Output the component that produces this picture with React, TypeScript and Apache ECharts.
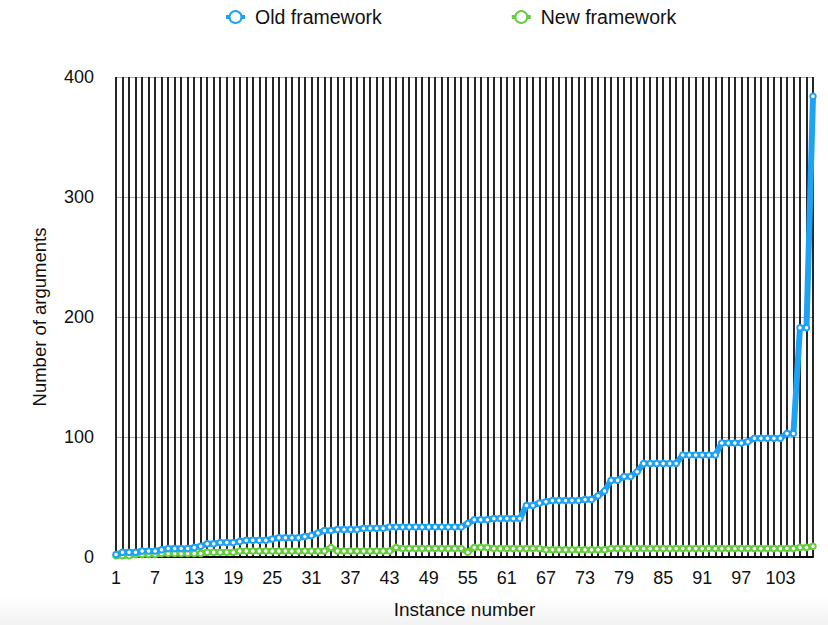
import React, { useEffect, useRef } from "react";
import * as echarts from "echarts";

const categories: string[] = Array.from({ length: 108 }, (_, i) => String(i + 1));

const oldFramework: number[] = [
  2, 4, 4, 4, 5, 5, 5, 6, 7, 7,
  7, 7, 8, 9, 11, 11, 12, 12, 12, 13,
  14, 14, 14, 14, 15, 16, 16, 16, 16, 17,
  18, 20, 22, 22, 23, 23, 23, 23, 24, 24,
  24, 24, 25, 25, 25, 25, 25, 25, 25, 25,
  25, 25, 25, 25, 28, 31, 31, 31, 32, 32,
  32, 32, 32, 43, 43, 45, 46, 47, 47, 47,
  47, 47, 48, 48, 51, 55, 64, 64, 67, 67,
  71, 78, 78, 78, 78, 78, 78, 85, 85, 85,
  85, 85, 85, 95, 95, 95, 95, 96, 99, 99,
  99, 99, 99, 103, 103, 191, 191, 384,
];

const newFramework: number[] = [
  1, 1, 1, 2, 2, 2, 2, 3, 3, 3,
  3, 3, 3, 3, 4, 4, 4, 4, 4, 5,
  5, 5, 5, 5, 5, 5, 5, 5, 5, 5,
  5, 5, 5, 8, 5, 5, 5, 5, 5, 5,
  5, 5, 5, 8, 7, 7, 7, 7, 7, 7,
  7, 7, 7, 7, 4, 8, 8, 8, 7, 7,
  7, 7, 7, 7, 7, 7, 6, 6, 6, 6,
  6, 6, 6, 6, 6, 6, 7, 7, 7, 7,
  7, 7, 7, 7, 7, 7, 7, 7, 7, 7,
  7, 7, 7, 7, 7, 7, 7, 7, 7, 7,
  7, 7, 7, 7, 7, 8, 8, 9,
];

const yTicks = { min: 0, max: 400, interval: 100 };

const BLUE = "#1ea2f6";
const GREEN = "#66cc3f";
const FONT = "'Liberation Sans', Arial, Helvetica, sans-serif";

export default function App() {
  const ref = useRef<HTMLDivElement>(null);
  useEffect(() => {
    if (!ref.current) return;
    const chart = echarts.init(ref.current, undefined, { renderer: "svg" });
    const mkSeries = (name: string, data: number[], color: string, z: number) => ({
      name,
      type: "line",
      data,
      z,
      symbol: "emptyCircle",
      symbolSize: 5.5,
      showSymbol: true,
      showAllSymbol: true,
      lineStyle: { color, width: 6 },
      itemStyle: { color, borderColor: color, borderWidth: 2.6 },
      emphasis: { disabled: true },
    });
    chart.setOption({
      animation: false,
      textStyle: { fontFamily: FONT },
      graphic: [
        {
          type: "rect",
          z: -10,
          silent: true,
          shape: { x: 0, y: 596, width: 828, height: 29 },
          style: {
            fill: new echarts.graphic.LinearGradient(0, 0, 0, 1, [
              { offset: 0, color: "rgba(0,0,0,0)" },
              { offset: 1, color: "rgba(0,0,0,0.05)" },
            ]),
          },
        },
      ],
      legend: {
        left: 224,
        top: 7,
        padding: 0,
        itemWidth: 19,
        itemHeight: 15,
        itemGap: 128,
        itemStyle: { borderWidth: 4 },
        lineStyle: { width: 4 },
        textStyle: { fontSize: 19.5, color: "#111", fontFamily: FONT, padding: [0, 0, 0, 5] },
        data: ["Old framework", "New framework"],
      },
      grid: { left: 116, right: 15, top: 77, bottom: 68, containLabel: false },
      xAxis: {
        type: "category",
        data: categories,
        boundaryGap: false,
        name: "Instance number",
        nameLocation: "middle",
        nameGap: 43,
        nameTextStyle: { fontSize: 19, color: "#111", fontFamily: FONT },
        axisLine: { show: true, lineStyle: { color: "#000", width: 2 } },
        axisTick: { show: false },
        axisLabel: { interval: 5, fontSize: 18, color: "#111", margin: 12, fontFamily: FONT },
        splitLine: { show: true, interval: 0, lineStyle: { color: "#000", width: 1.7 } },
      },
      yAxis: {
        type: "value",
        min: yTicks.min,
        max: yTicks.max,
        interval: yTicks.interval,
        name: "Number of arguments",
        nameLocation: "middle",
        nameGap: 67,
        nameTextStyle: { fontSize: 18.5, color: "#111", fontFamily: FONT },
        axisLine: { show: false },
        axisTick: { show: false },
        axisLabel: { fontSize: 18, color: "#111", margin: 22, fontFamily: FONT },
        splitLine: { show: true, lineStyle: { color: "#aaa", width: 1 } },
      },
      series: [
        mkSeries("Old framework", oldFramework, BLUE, 4),
        mkSeries("New framework", newFramework, GREEN, 3),
      ],
    });
    return () => chart.dispose();
  }, []);
  return (
    <div
      ref={ref}
      style={{ position: "absolute", left: 0, top: 0, width: 828, height: 625, background: "#fff" }}
    />
  );
}
